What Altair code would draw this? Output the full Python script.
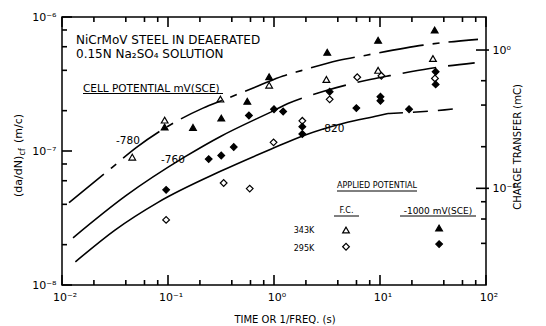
import altair as alt
import pandas as pd

# ---------------- data ----------------
# 343 K, free corrosion (open triangles)
fc343_x = [0.046, 0.093, 0.312, 0.90, 3.12, 9.6, 31.6]
fc343_y = [9.0e-8, 1.70e-7, 2.44e-7, 3.1e-7, 3.42e-7, 4.0e-7, 4.9e-7]
# 343 K, -1000 mV(SCE) (filled triangles)
ap343_x = [0.093, 0.172, 0.318, 0.56, 0.90, 3.18, 9.6, 32.8]
ap343_y = [1.51e-7, 1.50e-7, 1.76e-7, 2.35e-7, 3.58e-7, 5.45e-7, 6.7e-7, 8.0e-7]
# 295 K, free corrosion (open diamonds)
fc295_x = [0.096, 0.335, 0.59, 0.99, 1.85, 3.35, 6.1, 10.3, 33.0]
fc295_y = [3.06e-8, 5.77e-8, 5.24e-8, 1.16e-7, 1.68e-7, 2.43e-7, 3.55e-7, 3.64e-7, 3.48e-7]
# 295 K, -1000 mV(SCE) (filled diamonds)
ap295_x = [0.096, 0.242, 0.318, 0.417, 0.58, 1.0, 1.22, 1.85, 1.85, 3.35, 5.98, 10.1, 10.1, 18.8, 33.5, 33.5]
ap295_y = [5.13e-8, 8.7e-8, 9.25e-8, 1.07e-7, 1.84e-7, 2.05e-7, 1.97e-7, 1.52e-7, 1.34e-7, 2.77e-7,
           2.09e-7, 2.54e-7, 2.37e-7, 2.05e-7, 3.9e-7, 3.14e-7]

# cell potential curves
c780_x = [0.01164, 0.0292, 0.0501, 0.100, 0.2138, 0.3428, 0.706, 1.216, 1.811, 4.018, 7.43, 25.47, 84.1]
c780_y = [4.12e-8, 7.46e-8, 1.059e-7, 1.531e-7, 2.089e-7, 2.427e-7, 3.055e-7, 3.63e-7, 3.98e-7, 4.73e-7,
          5.19e-7, 6.17e-7, 6.81e-7]
c760_solid_x = [0.01271, 0.0398, 0.1439, 0.316, 0.706, 0.933]
c760_solid_y = [2.25e-8, 4.62e-8, 9.03e-8, 1.29e-7, 1.76e-7, 1.95e-7]
c760_dash_x = [0.933, 1.355, 2.897, 8.28, 12.36, 29.4, 78.2]
c760_dash_y = [1.95e-7, 2.26e-7, 2.78e-7, 3.43e-7, 3.65e-7, 4.13e-7, 4.55e-7]
c820_solid_x = [0.01337, 0.0316, 0.0805, 0.316, 0.944, 1.945, 4.645, 9.57, 11.89]
c820_solid_y = [1.489e-8, 2.57e-8, 4.14e-8, 7.08e-8, 1.035e-7, 1.312e-7, 1.618e-7, 1.832e-7, 1.905e-7]
c820_dash_x = [11.89, 40.7, 58.5]
c820_dash_y = [1.905e-7, 2.028e-7, 2.094e-7]

series = ["343K F.C.", "343K -1000", "295K F.C.", "295K -1000"]
# legend key symbols (data units)
key_x = [4.78, 36.1, 4.78, 36.1]
key_y = [2.57e-8, 2.66e-8, 1.93e-8, 2.02e-8]

x_label_vals = [0.01, 0.1, 1, 10, 100]
x_label_text = ["10⁻²", "10⁻¹", "10⁰", "10¹", "10²"]
y_label_vals = [1e-8, 1e-7, 1e-6]
r_label_vals = [0.1, 1]
x_minor = [0.02, 0.04, 0.06, 0.08, 0.2, 0.4, 0.6, 0.8, 2, 4, 6, 8, 20, 40, 60, 80]
y_minor = [2e-8, 4e-8, 6e-8, 8e-8, 2e-7, 4e-7, 6e-7, 8e-7]
r_minor = [0.04, 0.06, 0.08, 0.2, 0.4, 0.6]

# ---------------- layout ----------------
W, H = 424, 268
DEC_X, DEC_Y = W / 4, H / 2        # pixels per decade
FONT = "DejaVu Sans"
MAJ, MIN = 10, 5
DUMMY = pd.DataFrame({"d": [0]})


def xs_():
    return alt.Scale(type="log", domain=[0.01, 100], nice=False)


def ys_():
    return alt.Scale(type="log", domain=[1e-8, 1e-6], nice=False)


def rs_():
    return alt.Scale(type="log", domain=[0.02, 1.733], nice=False)


y_expr = "datum.value < 5e-8 ? '10⁻⁸' : datum.value < 5e-7 ? '10⁻⁷' : '10⁻⁶'"
r_expr = "datum.value < 0.5 ? '10⁻¹' : '10⁰'"

# points
rows = []
for name, xs, ys in zip(series, [fc343_x, ap343_x, fc295_x, ap295_x], [fc343_y, ap343_y, fc295_y, ap295_y]):
    for a, b in zip(xs, ys):
        rows.append({"x": a, "y": b, "s": name})
for name, a, b in zip(series, key_x, key_y):
    rows.append({"x": a, "y": b, "s": name})
pts = pd.DataFrame(rows)

points = alt.Chart(pts).mark_point(filled=True, stroke="black", strokeWidth=1.2, opacity=1).encode(
    x=alt.X("x:Q", scale=xs_(), axis=None),
    y=alt.Y("y:Q", scale=ys_(), axis=alt.Axis(orient="left", values=y_label_vals, labelExpr=y_expr, ticks=False,
                                               domain=False, grid=False, title=None, labelPadding=6,
                                               labelFontSize=11, labelOverlap=False)),
    shape=alt.Shape("s:N", scale=alt.Scale(domain=series, range=["triangle-up", "triangle-up", "diamond", "diamond"]),
                    legend=None),
    fill=alt.Fill("s:N", scale=alt.Scale(domain=series, range=["white", "black", "white", "black"]), legend=None),
    size=alt.Size("s:N", scale=alt.Scale(domain=series, range=[45, 45, 70, 70]), legend=None),
)


def curve(xs, ys, dash=None):
    df = pd.DataFrame({"x": xs, "y": ys})
    kw = dict(color="black", strokeWidth=1.6, interpolate="monotone")
    if dash:
        kw["strokeDash"] = dash
    return alt.Chart(df).mark_line(**kw).encode(
        x=alt.X("x:Q", scale=xs_(), axis=None),
        y=alt.Y("y:Q", scale=ys_(), axis=None),
    )


curves = [
    curve(c780_x, c780_y, [45, 9, 7, 9]),
    curve(c760_solid_x, c760_solid_y),
    curve(c760_dash_x, c760_dash_y, [34, 12]),
    curve(c820_solid_x, c820_solid_y),
    curve(c820_dash_x, c820_dash_y, [15, 10]),
]

# ---- inside frame ticks, each a two-point segment drawn through the scales ----
seg = []


def add(xa, ya, xb, yb):
    i = len(seg) // 2
    seg.append({"x": xa, "y": ya, "id": i, "o": 0})
    seg.append({"x": xb, "y": yb, "id": i, "o": 1})


for vals, L in ((x_label_vals, MAJ), (x_minor, MIN)):
    k = 10 ** (L / DEC_Y)
    for v in vals:
        add(v, 1e-8, v, 1e-8 * k)
        add(v, 1e-6, v, 1e-6 / k)
for vals, L in ((y_label_vals, MAJ), (y_minor, MIN)):
    k = 10 ** (L / DEC_X)
    for v in vals:
        add(0.01, v, 0.01 * k, v)
frame_ticks = alt.Chart(pd.DataFrame(seg)).mark_line(color="black", strokeWidth=1.6).encode(
    x=alt.X("x:Q", scale=xs_(), axis=None),
    y=alt.Y("y:Q", scale=ys_(), axis=None),
    detail="id:N", order="o:Q")

rseg = []
for vals, L, out in ((r_label_vals, MAJ, 3), (r_minor, MIN, 0)):
    k = 10 ** (L / DEC_X)
    o = 10 ** (out / DEC_X)
    for v in vals:
        i = len(rseg) // 2
        rseg.append({"x": 100 * o, "y": v, "id": i, "o": 0})
        rseg.append({"x": 100 / k, "y": v, "id": i, "o": 1})
r_axis = alt.Axis(orient="right", values=r_label_vals, labelExpr=r_expr, ticks=False, domain=False, grid=False,
                  title=None, labelPadding=6, labelFontSize=11, labelOverlap=False)
right_ticks = alt.Chart(pd.DataFrame(rseg)).mark_line(color="black", strokeWidth=1.6).encode(
    x=alt.X("x:Q", scale=xs_(), axis=None),
    y=alt.Y("y:Q", scale=rs_(), axis=r_axis),
    detail="id:N", order="o:Q")

# bottom tick labels, placed through the scales just below the frame
xl = pd.DataFrame({"v": x_label_vals, "t": x_label_text,
                   "yy": [1e-8 / 10 ** (12.5 / DEC_Y)] * len(x_label_vals)})
x_labels = alt.Chart(xl).mark_text(font=FONT, fontSize=11, align="center", baseline="middle", dx=3,
                                   color="black").encode(
    x=alt.X("v:Q", scale=xs_(), axis=None),
    y=alt.Y("yy:Q", scale=ys_(), axis=None),
    text="t:N")


def label(text, px, py, size, align="left", angle=0):
    kw = dict(font=FONT, fontSize=size, align=align, baseline="middle", color="black")
    if angle:
        kw["angle"] = angle
    return alt.Chart(DUMMY).mark_text(**kw).encode(
        x=alt.value(px), y=alt.value(py), text=alt.value(text))


texts = [
    label("NiCrMoV STEEL IN DEAERATED", 14, 22.5, 12),
    label("0.15N Na₂SO₄ SOLUTION", 14, 36.5, 12),
    label("CELL POTENTIAL mV(SCE)", 21, 71.5, 10.5),
    label("-780", 66, 124, 10.5, "center"),
    label("-760", 111, 143, 10.5, "center"),
    label("-820", 270.5, 111.5, 10.5, "center"),
    label("APPLIED POTENTIAL", 315, 169, 8, "center"),
    label("F.C.", 284.5, 194, 8, "center"),
    label("343K", 242, 214, 8, "center"),
    label("295K", 242, 232, 8, "center"),
    label("-1000 mV(SCE)", 376, 194, 9, "center"),
    label("TIME OR 1/FREQ. (s)", 223, 303, 10, "center"),
    label("CHARGE TRANSFER (mC)", 456, 130, 10, "center", 270),
    label("(da/dN)", -43, 180, 11, "left", 270),
    label("cf", -39.5, 138.5, 8, "left", 270),
    label("(m/c)", -43, 126, 11, "left", 270),
]


def underline(a, b, yy):
    return alt.Chart(DUMMY).mark_rule(color="black", strokeWidth=1).encode(
        x=alt.value(a), x2=alt.value(b), y=alt.value(yy))


underlines = [underline(21, 161, 76.5), underline(275, 355, 174), underline(272, 297, 199),
              underline(338, 414, 199)]

chart = alt.layer(points, *curves, frame_ticks, right_ticks, x_labels, *underlines, *texts).resolve_scale(
    y="independent").properties(
    width=W, height=H,
    padding={"left": 54, "top": 9, "right": 52, "bottom": 41},
    autosize=alt.AutoSizeParams(type="none"),
).configure_view(stroke="black", strokeWidth=1.5).configure_axis(
    labelFont=FONT, labelColor="black")

chart.save("out.html", embed_options={"renderer": "svg", "actions": False})
